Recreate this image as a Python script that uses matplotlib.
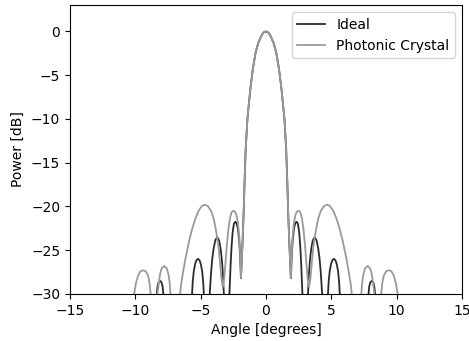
import matplotlib
matplotlib.use("Agg")
import matplotlib.pyplot as plt
import numpy as np

# one half of each beam pattern (angle >= 0), mirrored below
ideal_angle = [0.0, 0.2, 0.37, 0.59, 0.8, 1.0, 1.17, 1.3, 1.42, 1.55, 1.63, 1.71, 1.8, 1.91,
               1.97, 2.05, 2.15, 2.25, 2.35, 2.45, 2.55, 2.63, 2.7, 2.76, 2.82, 3.0,
               3.22, 3.28, 3.36, 3.46, 3.58, 3.73, 3.88, 4.0, 4.1, 4.2, 4.3, 4.5,
               4.75, 4.8, 4.88, 4.98, 5.08, 5.2, 5.32, 5.42, 5.52, 5.6, 5.65, 6.7,
               7.85, 7.9, 7.98, 8.1, 8.22, 8.3, 8.35, 8.6, 15.0]
ideal_power = [0.0, -0.15, -0.57, -1.33, -2.5, -4.3, -6.3, -8.2, -10.1, -13.5, -17.0, -21.0, -24.5, -28.2,
               -25.8, -23.8, -22.5, -21.9, -21.75, -22.0, -23.0, -24.6, -26.6, -28.8, -31.0, -45.0,
               -30.0, -28.0, -26.3, -24.9, -23.9, -23.5, -23.9, -24.8, -25.9, -27.6, -30.0, -45.0,
               -30.0, -28.6, -27.4, -26.6, -26.15, -26.0, -26.15, -26.6, -27.4, -28.6, -30.0, -45.0,
               -30.0, -29.2, -28.7, -28.5, -28.7, -29.2, -30.0, -45.0, -45.0]

pc_angle = [0.0, 0.2, 0.37, 0.59, 0.8, 1.0, 1.17, 1.3, 1.42, 1.55, 1.63, 1.71, 1.8, 1.91,
            1.97, 2.05, 2.15, 2.27, 2.4, 2.52, 2.64, 2.76, 2.88, 3.0, 3.1, 3.2, 3.3,
            3.4, 3.5, 3.62, 3.8, 4.0, 4.2, 4.45, 4.68, 4.9, 5.15, 5.4, 5.65, 5.9, 6.15,
            6.35, 6.5, 6.6, 6.9,
            7.3, 7.36, 7.45, 7.58, 7.78, 7.98, 8.11, 8.2, 8.3, 8.55,
            8.82, 8.9, 9.02, 9.2, 9.4, 9.6, 9.78, 9.95, 10.08, 10.4, 15.0]
pc_power = [0.0, -0.15, -0.57, -1.33, -2.5, -4.3, -6.3, -8.2, -10.1, -13.5, -17.0, -21.0, -24.5, -28.2,
            -25.5, -23.2, -21.8, -20.9, -20.55, -20.5, -20.7, -21.4, -22.7, -24.6, -26.6, -28.3, -29.2,
            -28.3, -26.6, -24.7, -22.9, -21.4, -20.5, -19.95, -19.8, -19.95, -20.5, -21.4, -22.6, -24.1, -25.9,
            -27.6, -29.0, -30.5, -45.0,
            -30.0, -28.8, -27.8, -27.1, -26.8, -27.1, -27.8, -28.8, -30.0, -45.0,
            -30.0, -28.8, -27.9, -27.4, -27.3, -27.4, -27.9, -28.8, -30.0, -45.0, -45.0]


def mirror(a, p):
    a = np.array(a)
    p = np.array(p)
    return np.concatenate([-a[:0:-1], a]), np.concatenate([p[:0:-1], p])


ia, ip = mirror(ideal_angle, ideal_power)
pa, pp = mirror(pc_angle, pc_power)

fig = plt.figure(figsize=(4.69, 3.41), dpi=100)
ax = fig.add_axes([0.149, 0.138, 0.836, 0.847])
ax.plot(ia, ip, color='#2b2b2b', lw=1.3, label='Ideal')
ax.plot(pa, pp, color='#9a9a9a', lw=1.3, label='Photonic Crystal')
ax.set_xlim(-15, 15)
ax.set_ylim(-30, 3)
ax.set_yticks([0, -5, -10, -15, -20, -25, -30])
ax.set_xlabel('Angle [degrees]')
ax.set_ylabel('Power [dB]')
ax.legend(loc='upper right')

plt.savefig("out.png", dpi=100)
